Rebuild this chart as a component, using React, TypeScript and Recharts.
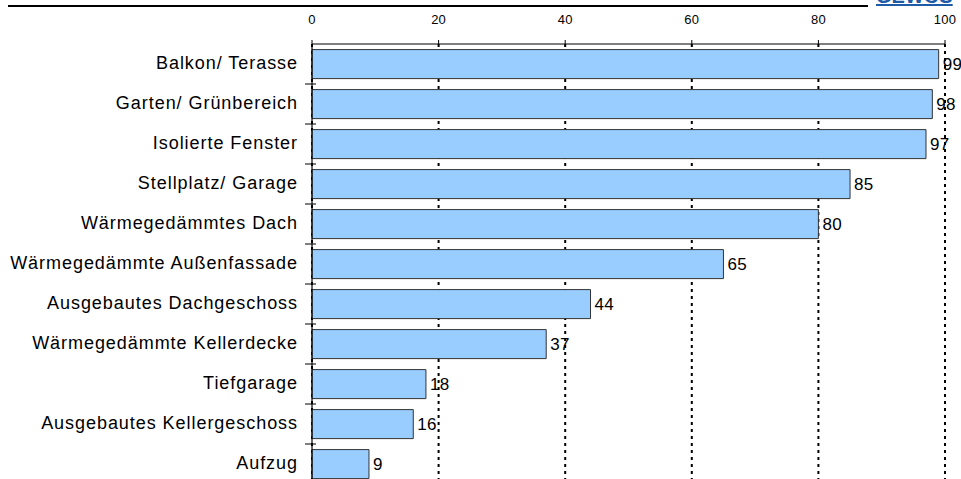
import React from "react";
import { BarChart, Bar, XAxis, YAxis, CartesianGrid, LabelList } from "recharts";

const categories = [
  "Balkon/ Terasse",
  "Garten/ Grünbereich",
  "Isolierte Fenster",
  "Stellplatz/ Garage",
  "Wärmegedämmtes Dach",
  "Wärmegedämmte Außenfassade",
  "Ausgebautes Dachgeschoss",
  "Wärmegedämmte Kellerdecke",
  "Tiefgarage",
  "Ausgebautes Kellergeschoss",
  "Aufzug",
];
const values = [99, 98, 97, 85, 80, 65, 44, 37, 18, 16, 9];
const xTicks = [0, 20, 40, 60, 80, 100];

const data = categories.map((name, i) => ({ name, value: values[i] }));

const FONT = "'Liberation Sans', Arial, sans-serif";
const CHART_W = 961;
const CHART_H = 495;
const MARGIN = { top: 14, right: 16, left: 0, bottom: 11 };
const X_AXIS_H = 30;
const Y_AXIS_W = 312;
const PLOT_TOP = MARGIN.top + X_AXIS_H;
const PLOT_H = CHART_H - PLOT_TOP - MARGIN.bottom;
const BAND = PLOT_H / categories.length;

const TopTick = (props: any) => {
  const { x, payload } = props;
  return (
    <g>
      <line x1={x} x2={x} y1={PLOT_TOP - 4} y2={PLOT_TOP + 3} stroke="#000" strokeWidth={1} />
      <text
        x={x}
        y={21}
        textAnchor="middle"
        dominantBaseline="middle"
        fontFamily={FONT}
        fontSize={13}
        style={{ letterSpacing: "0.2px" }}
        fill="#000"
      >
        {payload.value}
      </text>
    </g>
  );
};

const LeftTick = (props: any) => {
  const { y, payload, index } = props;
  const boundary = y - BAND / 2;
  return (
    <g>
      {index > 0 && (
        <line x1={Y_AXIS_W - 7} x2={Y_AXIS_W + 4} y1={boundary} y2={boundary} stroke="#000" strokeWidth={1} />
      )}
      <text
        x={Y_AXIS_W - 14}
        y={y}
        textAnchor="end"
        dominantBaseline="middle"
        fontFamily={FONT}
        fontSize={18}
        style={{ letterSpacing: "0.95px" }}
        fill="#000"
      >
        {payload.value}
      </text>
    </g>
  );
};

export default function App() {
  return (
    <div
      style={{
        position: "absolute",
        left: 0,
        top: 0,
        width: 961,
        height: 479,
        overflow: "hidden",
        background: "#fff",
      }}
    >
      <div
        style={{
          position: "absolute",
          left: 8,
          top: 5,
          width: 860,
          height: 1.5,
          background: "#000",
        }}
      />
      <span
        style={{
          position: "absolute",
          left: 876,
          top: -15,
          fontFamily: FONT,
          fontSize: 20,
          fontWeight: "bold",
          color: "#1f5aa6",
          textDecoration: "underline",
          lineHeight: "23px",
          whiteSpace: "nowrap",
        }}
      >
        GEWOS
      </span>
      <div style={{ position: "absolute", left: 0, top: 0 }}>
        <BarChart
          width={CHART_W}
          height={CHART_H}
          data={data}
          layout="vertical"
          margin={MARGIN}
          barCategoryGap="14%"
        >
          <CartesianGrid
            horizontal={false}
            vertical={true}
            stroke="#000"
            strokeWidth={2}
            strokeDasharray="3 4"
          />
          <XAxis
            type="number"
            orientation="top"
            domain={[0, 100]}
            ticks={xTicks}
            height={X_AXIS_H}
            axisLine={{ stroke: "#000", strokeWidth: 1.2 }}
            tickLine={false}
            tick={<TopTick />}
            interval={0}
          />
          <YAxis
            type="category"
            dataKey="name"
            width={Y_AXIS_W}
            axisLine={{ stroke: "#000", strokeWidth: 1.2 }}
            tickLine={false}
            tick={<LeftTick />}
            interval={0}
          />
          <Bar dataKey="value" fill="#99ccff" stroke="#333" strokeWidth={1} isAnimationActive={false}>
            <LabelList
              dataKey="value"
              position="right"
              offset={4}
              fill="#000"
              fontFamily={FONT}
              fontSize={17}
              style={{ letterSpacing: "0.3px" }}
            />
          </Bar>
        </BarChart>
      </div>
    </div>
  );
}
